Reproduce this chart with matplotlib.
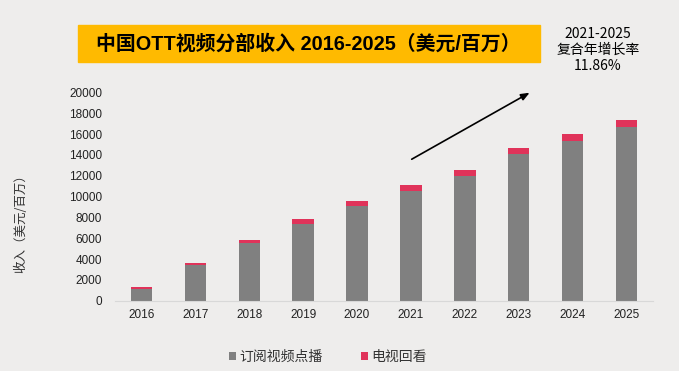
import matplotlib
matplotlib.use("Agg")
import matplotlib.pyplot as plt
import numpy as np

plt.rcParams['font.family'] = ['Liberation Sans', 'Noto Sans CJK SC', 'DejaVu Sans']

# values (USD millions)
years = ["2016", "2017", "2018", "2019", "2020", "2021", "2022", "2023", "2024", "2025"]
svod = [1100, 3400, 5500, 7400, 9050, 10550, 12000, 14100, 15300, 16650]
catchup_tv = [200, 250, 350, 450, 480, 520, 570, 580, 670, 700]
series_names = ["订阅视频点播", "电视回看"]
y_ticks = [0, 2000, 4000, 6000, 8000, 10000, 12000, 14000, 16000, 18000, 20000]

bg = "#eeedec"
grey = "#808080"
red = "#e0335a"
cjk = ['Noto Sans CJK SC', 'DejaVu Sans']
latin_first = ['Liberation Sans', 'Noto Sans CJK SC', 'DejaVu Sans']

fig = plt.figure(figsize=(6.79, 3.71), dpi=100, facecolor=bg)
ax = fig.add_axes([0.169, 0.1895, 0.793, 0.5615], facecolor=bg)

x = np.arange(len(years))
b1 = ax.bar(x, svod, width=0.4, color=grey, label=series_names[0])
b2 = ax.bar(x, catchup_tv, width=0.4, bottom=svod, color=red, label=series_names[1])

ax.set_xlim(-0.5, 9.5)
ax.set_ylim(0, 20000)
ax.set_xticks(x)
ax.set_xticklabels(years)
ax.set_yticks(y_ticks)
ax.tick_params(axis='both', length=0, labelsize=8.5, colors="#222222")
ax.tick_params(axis='y', pad=9)
ax.tick_params(axis='x', pad=6)
for s in ["top", "right", "left"]:
    ax.spines[s].set_visible(False)
ax.spines["bottom"].set_color("#d8d8d8")

ax.set_ylabel("收入（美元/百万）", family=cjk, fontsize=9, color="#333333")
ax.yaxis.set_label_coords(-0.163, 0.385)

# growth arrow
ax.annotate("", xy=(7.25, 20100), xytext=(4.97, 13450),
            arrowprops=dict(arrowstyle="-|>,head_length=0.5,head_width=0.2", color="black", lw=1.2),
            annotation_clip=False)

# title box
fig.patches.append(plt.Rectangle((78 / 679, 1 - 62 / 371), (540 - 78) / 679, 37 / 371,
                                 transform=fig.transFigure, color="#ffba00", zorder=0))
fig.text(308 / 679, 1 - 44 / 371, "中国OTT视频分部收入 2016-2025（美元/百万）",
         family=latin_first, fontsize=14.3, fontweight="bold", ha="center", va="center")

fig.text(598 / 679, 1 - 50 / 371, "2021-2025\n复合年增长率\n11.86%",
         family=cjk, fontsize=10, ha="center", va="center", linespacing=1.2)

fig.legend(handles=[b1, b2], loc="center", bbox_to_anchor=(328 / 679, 1 - 357 / 371),
           ncol=2, frameon=False, prop={'family': cjk, 'size': 10},
           handlelength=0.5, handleheight=0.5, handletextpad=0.25, columnspacing=2.8,
           labelcolor="#333333")

fig.savefig("out.png", dpi=100, facecolor=bg)
